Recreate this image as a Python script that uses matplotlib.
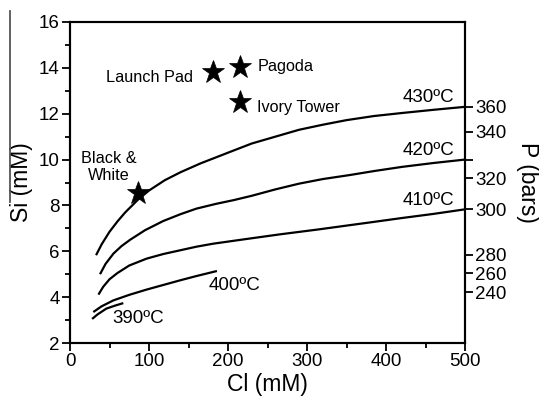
import matplotlib
matplotlib.use("Agg")
import matplotlib.pyplot as plt
from matplotlib.lines import Line2D

plt.rcParams["font.family"] = ["Liberation Sans", "DejaVu Sans"]

# isotherms, Cl (mM) vs Si (mM)
cl_430 = [33, 40, 50, 60, 70, 86, 100, 120, 140, 165, 200, 230, 260, 290, 320, 350, 385, 420, 460, 500]
si_430 = [5.83, 6.3, 6.85, 7.3, 7.7, 8.25, 8.65, 9.1, 9.45, 9.83, 10.3, 10.7, 11.0, 11.3, 11.52, 11.72, 11.9, 12.03, 12.17, 12.3]

cl_420 = [38, 45, 55, 65, 76, 95, 118, 140, 160, 185, 207, 230, 260, 290, 320, 355, 385, 420, 460, 500]
si_420 = [5.0, 5.45, 5.9, 6.22, 6.5, 6.92, 7.32, 7.62, 7.86, 8.07, 8.23, 8.42, 8.7, 8.95, 9.15, 9.33, 9.5, 9.68, 9.85, 10.0]

cl_410 = [36, 42, 50, 60, 75, 97, 118, 139, 160, 181, 220, 266, 316, 350, 380, 420, 460, 500]
si_410 = [4.11, 4.45, 4.78, 5.05, 5.38, 5.68, 5.88, 6.04, 6.2, 6.33, 6.52, 6.74, 6.96, 7.12, 7.26, 7.45, 7.63, 7.83]

cl_400 = [29.5, 40, 55, 75, 97, 118, 139, 160, 186]
si_400 = [3.35, 3.6, 3.86, 4.1, 4.33, 4.53, 4.73, 4.92, 5.14]

cl_390 = [28, 35, 46, 57, 67.5]
si_390 = [3.05, 3.25, 3.5, 3.63, 3.74]

# vent fluids
vent_names = ["Launch Pad", "Pagoda", "Ivory Tower", "Black &\nWhite"]
vent_cl = [181, 215, 215, 86.5]
vent_si = [13.83, 14.05, 12.52, 8.53]

# pressure scale on the right (P in bars and the matching Si level)
p_labels = ["360", "340", "", "320", "300", "280", "260", "240"]
p_at_si = [12.3, 11.22, 10.0, 9.18, 7.83, 5.84, 5.04, 4.21]

fig = plt.figure(figsize=(5.39, 3.97), dpi=100)
ax = fig.add_axes([70 / 539, 1 - 343 / 397, 395 / 539, 321 / 397])

curves = [(cl_430, si_430), (cl_420, si_420), (cl_410, si_410),
          (cl_400, si_400), (cl_390, si_390)]
for x, y in curves:
    ax.plot(x, y, color="black", lw=1.6, solid_capstyle="butt",
            solid_joinstyle="round")

ax.plot(vent_cl, vent_si, "*", color="black", ms=17, mec="black", mew=0.5,
        linestyle="none", zorder=5)

ax.set_xlim(0, 500)
ax.set_ylim(2, 16)
ax.set_xticks([0, 100, 200, 300, 400, 500])
ax.set_xticks([50, 150, 250, 350, 450], minor=True)
ax.set_yticks([2, 4, 6, 8, 10, 12, 14, 16])
ax.set_yticks([3, 5, 7, 9, 11, 13, 15], minor=True)
ax.tick_params(which="major", length=6, width=1.3, labelsize=13.5, pad=1.5)
ax.tick_params(which="minor", length=3.5, width=1.3)
for s in ax.spines.values():
    s.set_linewidth(1.5)
ax.set_xlabel("Cl (mM)", fontsize=16.5, labelpad=2)
ax.set_ylabel("Si (mM)", fontsize=16.5, labelpad=4)

# temperature labels
fs = 13.5
ax.text(487, 12.7, "430ºC", ha="right", va="center", fontsize=fs)
ax.text(487, 10.39, "420ºC", ha="right", va="center", fontsize=fs)
ax.text(487, 8.2, "410ºC", ha="right", va="center", fontsize=fs)
ax.text(175, 4.52, "400ºC", ha="left", va="center", fontsize=fs)
ax.text(54, 3.05, "390ºC", ha="left", va="center", fontsize=fs)

# vent labels
fv = 11.7
ax.text(156, 13.38, vent_names[0], ha="right", va="baseline", fontsize=fv)
ax.text(237, 13.87, vent_names[1], ha="left", va="baseline", fontsize=fv)
ax.text(237, 12.08, vent_names[2], ha="left", va="baseline", fontsize=fv)
ax.text(49.5, 9.11, vent_names[3], ha="center", va="baseline", fontsize=fv,
        multialignment="center", linespacing=1.15)

# right-hand pressure axis
ax2 = ax.twinx()
ax2.set_ylim(2, 16)
ax2.set_yticks(p_at_si)
ax2.set_yticklabels(p_labels)
ax2.tick_params(length=6, width=1.3, labelsize=13.5, pad=1.5)
ax2.set_ylabel("P (bars)", fontsize=16.5, rotation=270, labelpad=23)
for s in ax2.spines.values():
    s.set_linewidth(1.5)

# stray bar left of the y label
fig.add_artist(Line2D([10 / 539, 10 / 539], [1 - 11 / 397, 1 - 202 / 397],
                      transform=fig.transFigure, color="#555555", lw=1.3))

fig.savefig("out.png", dpi=100)
